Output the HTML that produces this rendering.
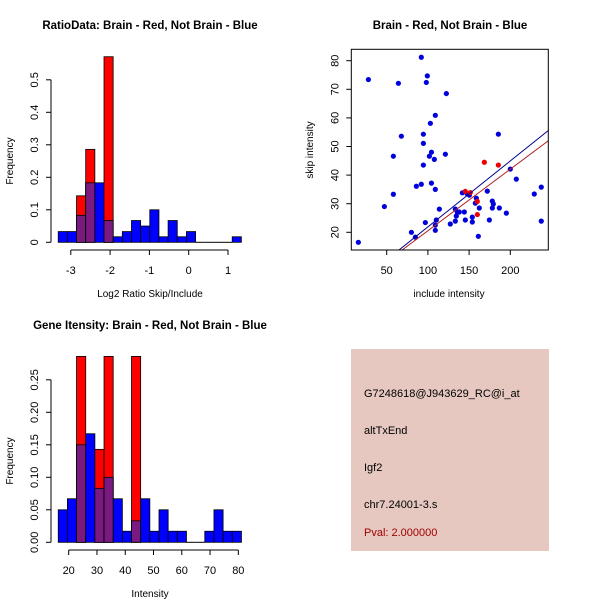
<!DOCTYPE html>
<html><head><meta charset="utf-8"><style>
body{margin:0;background:#fff;}
svg{display:block;font-family:"Liberation Sans",sans-serif;}
</style></head><body>
<svg id="c" width="600" height="600" viewBox="0 0 600 600">
<rect x="0" y="0" width="600" height="600" fill="#fff"/>
<g id="p1"></g>
<g id="p2"></g>
<g id="p3"></g>
<g>
<rect x="351" y="349" width="198" height="202" fill="#e6c8c0"/>
<text x="364" y="397" font-size="11" fill="#000">G7248618@J943629_RC@i_at</text>
<text x="364" y="434" font-size="11" fill="#000">altTxEnd</text>
<text x="364" y="471" font-size="11" fill="#000">Igf2</text>
<text x="364" y="508" font-size="11" fill="#000">chr7.24001-3.s</text>
<text x="364" y="536" font-size="11" fill="#a00000">Pval: 2.000000</text>
</g>
</svg>
<script>
// Ratio histogram data
const h1Start = -3.32;
const h1Width = 0.233;
const h1Blue = [0.033,0.033,0.083,0.183,0.183,0.067,0.017,0.033,0.067,0.05,0.1,0.017,0.067,0.017,0.033,0,0,0,0,0.017];
const h1Red  = [0,0,0.143,0.286,0,0.571,0,0,0,0,0,0,0,0,0,0,0,0,0,0];
const h1XTicks = [-3,-2,-1,0,1];
const h1YTicks = [0,0.1,0.2,0.3,0.4,0.5];
// Gene intensity histogram data
const h3Start = 16.3;
const h3Width = 3.24;
const h3Blue = [0.05,0.067,0.15,0.167,0.083,0.1,0.067,0.017,0.033,0.067,0.017,0.05,0.017,0.017,0,0,0.017,0.05,0.017,0.017];
const h3Red  = [0,0,0.286,0,0.143,0.286,0,0,0.286,0,0,0,0,0,0,0,0,0,0,0];
const h3XTicks = [20,30,40,50,60,70,80];
const h3YTicks = ["0.00","0.05","0.10","0.15","0.20","0.25"];
// Scatter data
const sBlueX = [15.6,27.8,47.2,58.1,58.1,64.2,67.8,80,84.8,86,92,92,94.5,94.5,94.5,96.9,98.1,99.3,101.8,103,104.3,104.3,107.8,109,109,109,109,110.2,113.9,121.2,122.4,127.2,133.3,133.3,134.5,135.7,138.1,141.8,144.2,145.4,147.8,150.3,153.9,153.9,157.6,158.8,162.4,161.2,172.1,174.6,178.2,179.4,178.2,185.5,186.7,195.2,200,207.3,229.1,237.6,237.6];
const sBlueY = [16.5,73.4,29.0,33.3,46.6,72.1,53.6,20,18.3,36.1,81.2,36.8,54.3,51.1,43.5,23.4,72.4,74.7,46.6,58.1,37.2,48,45.5,60.9,35,22.5,20.7,24.3,28.1,47.3,68.5,22.9,28.1,23.9,25.7,27.1,27.1,33.8,27.1,24.3,33.4,33,25.3,23.6,30.2,31.9,28.5,18.6,34.4,24.3,30.9,29.9,28.5,54.3,28.5,26.7,42.1,38.6,33.4,35.8,23.9];
const sRedX = [145.4,151.5,160,160,168.5,185.5];
const sRedY = [34.3,33.9,30.8,26.2,44.5,43.5];
const fitBlue = [-1.16,0.2306]; // intercept, slope
const fitRed = [-1.0,0.2154];
const sXTicks = [50,100,150,200];
const sYTicks = [20,30,40,50,60,70,80];

const NS="http://www.w3.org/2000/svg";
function mk(parent,tag,attrs){const e=document.createElementNS(NS,tag);for(const k in attrs)e.setAttribute(k,attrs[k]);parent.appendChild(e);return e;}
function txt(parent,x,y,s,attrs){const e=mk(parent,'text',Object.assign({x:x,y:y,'font-size':11,'text-anchor':'middle',fill:'#000'},attrs||{}));e.textContent=s;return e;}

function hist(g,title,titleY,xlab,start,w,blue,red,xt,yt,xScale,yScale,tickY,axisX){
  const t=txt(g,150,titleY,title,{'font-weight':'bold','font-size':11.5});
  
  
  for(let i=0;i<blue.length;i++){
    const x0=xScale(start+i*w),x1=xScale(start+(i+1)*w);
    const b=blue[i],r=red[i];
    if(b>0){const e=mk(g,'rect',{x:x0,y:yScale(b),width:x1-x0,height:yScale(0)-yScale(b),fill:'#0000ff',stroke:'#000','stroke-width':0.8});
      
      }
    if(r>0){const e=mk(g,'rect',{x:x0,y:yScale(r),width:x1-x0,height:yScale(0)-yScale(r),fill:'#ff0000',stroke:'#000','stroke-width':0.8});
      
      }
    if(b>0&&r>0){const m=Math.min(b,r);const e=mk(g,'rect',{x:x0,y:yScale(m),width:x1-x0,height:yScale(0)-yScale(m),fill:'#7a1a80',stroke:'#000','stroke-width':0.8});
      
      }
    if(b===0&&r===0){mk(g,'line',{x1:x0,x2:x1,y1:yScale(0),y2:yScale(0),stroke:'#000'});}
  }
  const yv=yt.map(Number);
  mk(g,'line',{x1:axisX,x2:axisX,y1:yScale(yv[0]),y2:yScale(yv[yv.length-1]),stroke:'#000'});
  yt.forEach((s,i)=>{const y=yScale(yv[i]);mk(g,'line',{x1:axisX-5,x2:axisX,y1:y,y2:y,stroke:'#000'});
    const e=txt(g,axisX-13,y,String(s),{transform:`rotate(-90 ${axisX-13} ${y})`});
    
    });
  mk(g,'line',{x1:xScale(xt[0]),x2:xScale(xt[xt.length-1]),y1:tickY,y2:tickY,stroke:'#000'});
  xt.forEach(v=>{const x=xScale(v);mk(g,'line',{x1:x,x2:x,y1:tickY,y2:tickY+5,stroke:'#000'});
    const e=txt(g,x,tickY+24,String(v));
    
    });
  const xl=txt(g,150,tickY+47,xlab,{'font-size':10});
  
  
  const cy=(yScale(yv[0])+yScale(yv[yv.length-1]))/2;
  const yl=txt(g,13,cy,'Frequency',{'font-size':10,transform:`rotate(-90 13 ${cy})`});
  
  
}

hist(document.getElementById('p1'),'RatioData: Brain - Red, Not Brain - Blue',29,'Log2 Ratio Skip/Include',
  h1Start,h1Width,h1Blue,h1Red,h1XTicks,h1YTicks,v=>188.7+v*39.3,v=>242.3-v*325,250,51);
hist(document.getElementById('p3'),'Gene Itensity: Brain - Red, Not Brain - Blue',329,'Intensity',
  h3Start,h3Width,h3Blue,h3Red,h3XTicks,h3YTicks,v=>68.7+(v-20)*2.827,v=>542.3-v*650,550,51);

(function(){
  const g=document.getElementById('p2');
  const L=351.3,R=548.3,T=49.3,B=250;
  const xs=v=>386.7+(v-50)*0.824, ys=v=>232.3-(v-20)*2.86;
  const t=txt(g,450,29,'Brain - Red, Not Brain - Blue',{'font-weight':'bold','font-size':11.5});
  
  
  const defs=mk(g,'clipPath',{id:'clp'});mk(defs,'rect',{x:L,y:T,width:R-L,height:B-T});
  const pg=mk(g,'g',{'clip-path':'url(#clp)'});
  sBlueX.forEach((x,i)=>{const e=mk(pg,'circle',{cx:xs(x),cy:ys(sBlueY[i]),r:2.6,fill:'#0000dd'});
    
    });
  sRedX.forEach((x,i)=>{const e=mk(pg,'circle',{cx:xs(x),cy:ys(sRedY[i]),r:2.6,fill:'#ee0000'});
    
    });
  const xa=0,xb=260;
  const lb=mk(pg,'line',{x1:xs(xa),y1:ys(fitBlue[0]+fitBlue[1]*xa),x2:xs(xb),y2:ys(fitBlue[0]+fitBlue[1]*xb),stroke:'#00008b','stroke-width':1});
  
  
  const lr=mk(pg,'line',{x1:xs(xa),y1:ys(fitRed[0]+fitRed[1]*xa),x2:xs(xb),y2:ys(fitRed[0]+fitRed[1]*xb),stroke:'#b22222','stroke-width':1});
  
  
  mk(g,'rect',{x:L,y:T,width:R-L,height:B-T,fill:'none',stroke:'#000'});
  sXTicks.forEach(v=>{const x=xs(v);mk(g,'line',{x1:x,x2:x,y1:B,y2:B+5,stroke:'#000'});
    const e=txt(g,x,B+24,String(v));
    
    });
  sYTicks.forEach(v=>{const y=ys(v);mk(g,'line',{x1:L-5,x2:L,y1:y,y2:y,stroke:'#000'});
    const e=txt(g,L-13,y,String(v),{transform:`rotate(-90 ${L-13} ${y})`});
    
    });
  const xl=txt(g,449,297,'include intensity',{'font-size':10});
  
  
  const yl=txt(g,313,150,'skip intensity',{'font-size':10,transform:'rotate(-90 313 150)'});
  
  
})();
</script>
</body></html>
